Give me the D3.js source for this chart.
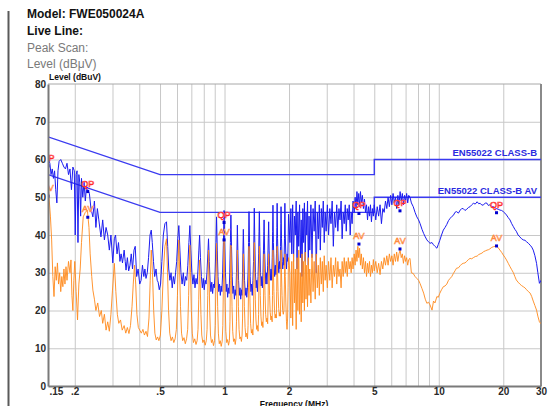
<!DOCTYPE html>
<html><head><meta charset="utf-8">
<script src="https://cdn.jsdelivr.net/npm/d3@7"></script>
<style>html,body{margin:0;padding:0;background:#fff;overflow:hidden}svg{display:block;font-family:"Liberation Sans",Arial,sans-serif}</style>
</head><body>
<svg id="c" width="548" height="406"></svg>
<script>
// ---------- data ----------
const headerLines = ["Model: FWE050024A", "Live Line:", "Peak Scan:", "Level (dBμV)"];
const yTicks = [0, 10, 20, 30, 40, 50, 60, 70, 80];
const xGrid = [0.2, 0.3, 0.4, 0.5, 0.6, 0.7, 0.8, 0.9, 1, 2, 3, 4, 5, 6, 7, 8, 9, 10, 20];
const xTickValues = [0.15, 0.2, 0.5, 1, 2, 5, 10, 20, 30];
const xTickLabels = [".15", ".2", ".5", "1", "2", "5", "10", "20", "30"];
const limitQP = [[0.15, 66], [0.5, 56], [5, 56], [5, 60], [30, 60]];
const limitAV = [[0.15, 56], [0.5, 46], [5, 46], [5, 50], [30, 50]];
const limitNames = ["EN55022 CLASS-B", "EN55022 CLASS-B AV"];
const markerFreqs = [0.150, 0.230, 0.995, 4.24, 6.59, 18.6];
const qpValues = [58.3, 51.5, 43.3, 45.7, 46.4, 45.9];
const avValues = [50.3, 44.7, 38.7, 37.6, 36.3, 37.1];

const peakScan = [
[0.150,58],[0.151,60],[0.153,59],[0.155,56],[0.157,57.5],[0.159,55],[0.161,57],[0.163,52],[0.165,48.5],[0.167,57],[0.169,59.5],[0.172,60],[0.175,59],[0.178,58],[0.181,57.5],[0.184,59],[0.187,56],[0.190,57.5],[0.193,52],[0.196,58],[0.199,57],[0.201,40],[0.203,56],[0.205,57],[0.207,38],[0.209,56],[0.211,54],[0.213,45],[0.215,55],[0.218,50],[0.221,54],[0.224,49],[0.227,53],[0.230,52],
[0.234,51],[0.238,47],[0.243,44.8],[0.247,49],[0.251,42],[0.255,47],[0.259,44],[0.265,39.5],[0.270,44],[0.275,38.7],[0.280,42],[0.285,40],[0.290,36],[0.295,40],[0.301,32.6],[0.306,39],[0.310,40],[0.315,35],[0.320,38],[0.325,33],[0.329,35],[0.334,32.6],[0.340,36],[0.344,33],[0.347,30.7],[0.352,34],[0.357,30.5],[0.362,32],[0.367,35],[0.372,31],[0.378,36],[0.383,37],[0.389,29],[0.395,31],[0.402,27],[0.408,28],[0.414,32],[0.420,29],[0.425,31],[0.430,28.5],[0.436,30],[0.442,34],[0.449,40],[0.455,41.3],[0.460,38],[0.466,33],[0.472,29],[0.479,31],[0.485,28],[0.490,27.5],[0.496,25.5],[0.503,27],[0.510,33],[0.518,40],[0.527,43],
[0.536,43.5],[0.543,37],[0.549,31],[0.556,28],[0.563,30],[0.570,26],[0.577,29],[0.584,27],[0.591,30],[0.598,33],[0.605,39],[0.612,42.5],
[0.619,36],[0.626,30],[0.634,27],[0.642,30],[0.650,26.5],[0.658,29],[0.666,28],[0.674,32],[0.682,38],[0.689,42.5],
[0.696,36],[0.704,30],[0.712,27],[0.720,29.5],[0.728,26],[0.736,28.5],[0.745,27],[0.752,31],[0.759,36],[0.765,40],
[0.772,34],[0.780,29],[0.788,26],[0.796,28.5],[0.804,25.5],[0.812,28],[0.820,27],[0.828,30],[0.836,35],[0.842,39],
[0.849,33],[0.856,28],[0.864,25],[0.872,27.5],[0.880,24.5],[0.888,27],[0.896,26],[0.904,30],[0.912,38],[0.918,44.8],
[0.925,36],[0.932,29],[0.940,25],[0.948,27],[0.956,24],[0.964,26.5],[0.972,25],[0.980,30],[0.988,38],[0.995,46.5],
[1.002,38],[1.010,30],[1.018,25],[1.026,27],[1.034,23.5],[1.042,26],[1.050,24.5],[1.058,30],[1.065,38],[1.071,45.3],
[1.078,37],[1.086,29],[1.094,24.5],[1.103,26.5],[1.112,23],[1.121,25.5],[1.130,24],[1.137,30],[1.143,36],[1.148,42.6],
[1.155,35],[1.163,28],[1.172,24],[1.181,26],[1.190,23],[1.199,25.5],[1.207,24],[1.214,30],[1.219,36],[1.224,41.5],
[1.231,35],[1.240,28],[1.250,24],[1.260,26],[1.270,23.5],[1.280,26],[1.288,30],[1.295,38],[1.301,46.2],
[1.308,38],[1.317,29],[1.327,25],[1.337,27],[1.347,24],[1.357,28],[1.366,33],[1.372,40],[1.377,47.1],
[1.385,38],[1.394,30],[1.404,26],[1.414,28],[1.424,25],[1.434,29],[1.443,35],[1.449,41],[1.454,46.2],
[1.462,37],[1.472,30],[1.482,26.5],[1.492,29],[1.502,26],[1.512,30],[1.520,36],[1.526,41],[1.530,44],
[1.538,36],[1.548,31],[1.558,27],[1.568,30],[1.578,27],[1.590,32],[1.600,39],[1.607,43.5],
[1.615,36],[1.625,31],[1.636,28],[1.648,31],[1.660,28],[1.670,34],[1.677,41],[1.683,47.9],
[1.691,38],[1.702,32],[1.714,29],[1.726,32],[1.738,29.5],[1.748,35],[1.755,42],[1.760,48.4],
[1.768,39],[1.780,33],[1.792,30],[1.804,33],[1.816,31],[1.826,37],[1.832,43],[1.836,47.5],
[1.845,39],[1.858,33],[1.870,31],[1.883,34],[1.895,32],[1.905,39],[1.913,48.4],
[1.921,40],[1.934,34],[1.947,31],[1.960,35],[1.973,33],[1.983,40],[1.990,45.5],
[2.02,38],[2.04,47],[2.06,35],[2.08,48],[2.10,33],[2.12,45],[2.14,40],[2.16,49],[2.18,31],[2.20,46],[2.22,37],[2.24,48],[2.26,34],[2.28,44],[2.30,29],[2.32,47],[2.34,38],[2.36,48.5],[2.38,33],[2.40,46],[2.42,40],[2.44,49],[2.46,32],[2.48,45],[2.50,36],
[2.53,48],[2.56,34],[2.59,47],[2.62,41],[2.65,49],[2.68,30],[2.71,46],[2.74,39],[2.77,48],[2.80,36],[2.83,47],[2.86,42],[2.89,49],[2.92,38],[2.95,46],[2.98,41],
[3.02,48],[3.06,40],[3.10,47],[3.14,43],[3.18,49],[3.22,37],[3.26,46],[3.30,42],[3.34,48],[3.38,41],[3.42,47],[3.46,44],[3.50,49],[3.54,39],[3.58,46],[3.62,43],[3.66,48],[3.70,41],[3.74,47],[3.78,44],[3.82,48],[3.86,40],[3.90,46],[3.94,43],[3.98,49],
[4.03,46],[4.07,50],[4.11,47],[4.15,51.5],[4.19,48],[4.23,51],[4.27,47.5],[4.31,51.5],[4.35,48.5],[4.40,50.5],[4.45,47],[4.50,49.5],[4.55,46],[4.60,48],[4.65,44],[4.70,47.5],[4.75,45],[4.80,48],[4.85,43.5],[4.90,47],[4.95,45],[5.00,48],
[5.08,44],[5.16,47.5],[5.24,45],[5.32,48],[5.40,43],[5.48,47],[5.56,46],[5.64,49],[5.72,47],[5.80,50],[5.88,47.5],[5.96,50.5],[6.04,48],[6.12,51],[6.20,48.5],[6.28,50],[6.36,47],[6.44,50.5],[6.52,48],[6.60,51.5],[6.68,49],[6.76,51],[6.84,48],[6.92,50.5],[7.00,49],[7.08,51],[7.16,48.5],[7.24,50.5],[7.34,50],
[7.45,48.5],[7.6,47.5],[7.75,46],[7.9,44.8],[8.05,44],[8.17,43.1],[8.35,41.5],[8.5,40.4],[8.65,39.5],[8.8,38.7],[8.95,38.2],[9.1,37.8],[9.3,38],[9.45,37.4],[9.6,37],[9.8,36.5],[9.95,37.5],[10.1,38.5],[10.3,40],[10.5,41.3],[10.7,42],[10.9,42.8],[11.1,43.8],[11.3,44.4],[11.5,44.9],[11.7,45.2],[11.9,46],[12.1,46.2],[12.35,45.8],[12.6,46.6],[12.8,47],[13.0,47],[13.25,46.5],[13.5,46.8],[13.75,47.3],[14.0,47.5],[14.25,48],[14.5,48.4],[14.8,48.2],[15.1,48.8],[15.35,48.3],[15.6,48.4],[15.9,47.9],[16.2,48],[16.5,48.5],[16.8,48.4],[17.05,47.8],[17.3,48],[17.65,47.6],[18.0,47.5],[18.3,47.2],[18.6,47],[18.95,46.8],[19.3,46.6],[19.65,46.5],[20.0,46.2],[20.35,45.8],[20.7,45.3],[21.1,44.6],[21.5,44],[21.9,43],[22.3,42.2],[22.65,41.5],[23.0,41],[23.45,40],[23.9,39.5],[24.35,39],[24.8,38.7],[25.25,38.6],[25.7,38.2],[26.2,37.8],[26.7,37.3],[27.15,36.8],[27.6,36],[28.1,34.5],[28.6,32.5],[29.0,30],[29.5,27.2],[30,28]
];

const averageScan = [
[0.150,50],[0.151,52],[0.152,49.3],[0.154,44.8],[0.156,38.7],[0.158,29],[0.160,23.7],[0.162,31.6],[0.164,28],[0.166,32.6],[0.168,27],[0.170,30],[0.172,25],[0.174,29],[0.176,26.3],[0.178,31],[0.180,27],[0.182,31.6],[0.184,28],[0.187,33],[0.190,30],[0.192,33.4],[0.194,24],[0.196,20],[0.198,28],[0.200,33],[0.203,25],[0.206,17.5],[0.209,27],[0.212,31],[0.215,38],[0.219,44.8],[0.224,46],[0.229,46.6],[0.233,42],[0.236,35],[0.240,29],[0.243,25.4],[0.247,23],[0.251,20],[0.256,22],[0.261,18.4],[0.266,20],[0.270,16.6],[0.275,19],[0.280,14.8],[0.285,17],[0.290,14.5],[0.295,19],[0.300,25.4],[0.306,32.5],[0.311,25],[0.316,19],[0.321,16.6],[0.327,17.5],[0.333,14.8],[0.340,16],[0.346,14],[0.352,15.5],[0.358,13.9],[0.364,16],[0.370,21],[0.375,27],[0.380,32],[0.385,27],[0.390,19],[0.396,15.5],[0.402,14.8],[0.409,14],[0.416,15],[0.423,13.5],[0.430,14.5],[0.437,13.1],[0.444,18],[0.450,28],[0.455,36],[0.461,30],[0.467,20],[0.473,14],[0.480,12.2],[0.487,13],[0.494,12],[0.502,13.5],[0.510,20],[0.518,30],[0.527,37],
[0.536,39],[0.542,30],[0.548,20],[0.555,14],[0.563,12],[0.571,13],[0.580,11.5],[0.588,12.5],[0.596,15],[0.603,24],[0.608,33],[0.612,38.7],
[0.617,31],[0.623,21],[0.630,14],[0.638,12],[0.647,12.8],[0.656,11.2],[0.665,12.5],[0.673,15],[0.680,24],[0.685,32],[0.689,37.3],
[0.694,30],[0.700,20],[0.707,14],[0.716,11.5],[0.726,12.5],[0.736,11],[0.745,12],[0.752,15],[0.758,23],[0.762,29],[0.765,33.4],
[0.770,27],[0.776,19],[0.783,13.5],[0.792,11.5],[0.802,12.2],[0.812,10.8],[0.822,12],[0.829,15],[0.835,24],[0.839,31],[0.842,36],
[0.847,29],[0.853,20],[0.860,13.5],[0.869,11.5],[0.878,12.3],[0.888,10.7],[0.898,12],[0.905,16],[0.911,26],[0.915,33],[0.918,37.8],
[0.923,30],[0.929,21],[0.936,14],[0.945,11.2],[0.955,12],[0.965,10.5],[0.975,11.8],[0.982,16],[0.988,27],[0.992,34],[0.995,38.7],
[1.000,31],[1.007,22],[1.014,14.5],[1.024,11.5],[1.034,12.3],[1.044,10.8],[1.054,12],[1.060,17],[1.065,28],[1.069,34],[1.071,37.3],
[1.077,30],[1.084,21],[1.092,14.5],[1.102,11.8],[1.112,12.5],[1.122,11],[1.131,12.5],[1.137,17],[1.142,28],[1.146,33],[1.148,36],
[1.154,29],[1.161,21],[1.169,15],[1.179,12.5],[1.189,13],[1.199,11.8],[1.208,13.5],[1.214,18],[1.219,28],[1.222,32],[1.224,35],
[1.230,29],[1.238,21],[1.247,15.5],[1.258,13],[1.269,14],[1.280,12.5],[1.288,16],[1.294,26],[1.298,33],[1.301,37],
[1.307,30],[1.315,22],[1.324,16.5],[1.335,14],[1.346,15],[1.356,13.5],[1.365,18],[1.371,28],[1.375,34],[1.377,38],
[1.383,31],[1.392,23],[1.402,17.5],[1.413,15],[1.424,16],[1.434,14.5],[1.442,19],[1.448,29],[1.452,34],[1.454,37],
[1.460,31],[1.469,24],[1.479,18.5],[1.490,16],[1.501,17],[1.511,15.5],[1.519,20],[1.525,29],[1.528,33],[1.530,35],
[1.537,30],[1.546,24],[1.556,19],[1.567,17],[1.578,18],[1.590,16.5],[1.597,22],[1.603,31],[1.607,35],
[1.614,30],[1.623,24],[1.634,19.5],[1.646,17.5],[1.658,18.5],[1.668,17],[1.675,24],[1.680,32],[1.683,36],
[1.690,31],[1.700,25],[1.711,20],[1.723,18],[1.735,19],[1.745,18],[1.752,25],[1.757,33],[1.760,37],
[1.767,31],[1.778,25],[1.790,20.5],[1.802,18.5],[1.814,19.5],[1.824,18.5],[1.830,26],[1.834,33],[1.836,36],
[1.844,30],[1.856,24],[1.868,20],[1.881,19],[1.894,20],[1.903,27],[1.910,33],[1.913,35],
[1.921,29],[1.933,22],[1.946,17],[1.958,15],[1.970,18],[1.980,26],[1.987,32],[1.990,34],
[2.02,30],[2.04,18],[2.06,33],[2.08,16],[2.10,35],[2.12,22],[2.14,31],[2.16,15],[2.18,34],[2.20,20],[2.22,36],[2.24,19],[2.26,30],[2.28,17],[2.30,35],[2.32,22],[2.34,33],[2.36,20],[2.38,35.5],[2.40,23],[2.42,32],[2.44,21],[2.46,34],[2.48,24],[2.50,31],
[2.53,22],[2.56,35],[2.59,25],[2.62,33],[2.65,23],[2.68,35],[2.71,26],[2.74,32],[2.77,24],[2.80,34],[2.83,27],[2.86,33],[2.89,25],[2.92,34.5],[2.95,28],[2.98,32],
[3.02,26],[3.06,33],[3.10,28],[3.14,34],[3.18,26],[3.22,32],[3.26,29],[3.30,34],[3.34,27],[3.38,33],[3.42,29],[3.46,31],[3.50,26],[3.54,33],[3.58,29],[3.62,34],[3.66,30],[3.70,33],[3.74,29],[3.78,34],[3.82,31],[3.86,33],[3.90,30],[3.94,34],[3.98,31],
[4.03,35],[4.07,32],[4.11,36],[4.15,33],[4.19,37],[4.23,34],[4.27,36.5],[4.31,32],[4.35,35],[4.40,31],[4.45,34],[4.50,30],[4.55,33],[4.60,29],[4.65,32.5],[4.70,30],[4.75,33],[4.80,29],[4.85,32],[4.90,30],[4.95,33.5],[5.00,30.5],
[5.08,33],[5.16,30],[5.24,32.5],[5.32,29.5],[5.40,33],[5.48,31],[5.56,34],[5.64,32],[5.72,34.5],[5.80,32],[5.88,35],[5.96,33],[6.04,34.5],[6.12,32],[6.20,35],[6.28,33],[6.36,35.5],[6.44,33],[6.52,35],[6.60,36],[6.68,34],[6.76,35],[6.84,32.5],[6.92,34.5],[7.00,33],[7.08,34],[7.16,32],[7.24,33.5],[7.34,33.8],
[7.45,30],[7.6,29.8],[7.75,29],[7.9,28.5],[8.05,28],[8.17,27.2],[8.35,25.8],[8.5,24.6],[8.65,23],[8.8,21.9],[8.95,22.2],[9.1,21.5],[9.3,20.1],[9.45,22.5],[9.6,22],[9.8,23.7],[9.95,23.5],[10.1,24.5],[10.3,25.5],[10.5,26.3],[10.7,26.5],[10.9,27],[11.1,28],[11.3,28.5],[11.5,29],[11.7,29.8],[11.9,30.5],[12.1,31.2],[12.35,31.3],[12.6,31.9],[12.8,32.3],[13.0,32.5],[13.25,32.6],[13.5,33],[13.75,33.5],[14.0,33.8],[14.25,33.7],[14.5,34],[14.8,34.3],[15.1,34.4],[15.35,34.8],[15.6,35],[15.9,35.2],[16.2,35.6],[16.5,35.8],[16.8,36],[17.05,36.1],[17.3,36.3],[17.65,36.7],[18.0,36.9],[18.3,37],[18.6,37.1],[18.95,36.6],[19.3,36],[19.65,35.4],[20.0,34.7],[20.35,34.1],[20.7,33.4],[21.1,32.5],[21.5,31.6],[21.9,30.8],[22.3,30],[22.65,29],[23.0,28.1],[23.45,27.5],[23.9,27],[24.35,26.6],[24.8,26.3],[25.25,26],[25.7,25.5],[26.2,25],[26.7,24.6],[27.15,23.7],[27.6,22.5],[28.1,21.3],[28.6,20.1],[29.0,18.5],[29.5,17],[30,16.5]
];

// ---------- layout ----------
const svg = d3.select("#c");
const L = 48, R = 541, T = 84, B = 386;
const x = d3.scaleLog().domain([0.15, 30]).range([L, R]);
const y = d3.scaleLinear().domain([0, 80]).range([B, T]);

// left vertical rule of the page
svg.append("line").attr("x1", 8.5).attr("x2", 8.5).attr("y1", 11).attr("y2", 406)
  .attr("stroke", "#5a5a5a").attr("stroke-width", 2);

// header text
const hdr = svg.append("g");
const hy = [18, 35, 52, 68];
headerLines.forEach((t, i) => {
  hdr.append("text").attr("x", 27).attr("y", hy[i]).text(t)
    .attr("font-size", 12).attr("font-weight", i < 2 ? "bold" : "normal")
    .attr("fill", i < 2 ? "#111" : "#7a7a7a");
});

// gridlines
const gx = svg.append("g").attr("transform", `translate(0,${B})`)
  .call(d3.axisBottom(x).tickValues(xGrid).tickSize(-(B - T)).tickFormat(""));
gx.select(".domain").remove();
gx.selectAll(".tick line").attr("stroke", "#c8c8c8").attr("stroke-width", 1);
const gy = svg.append("g").attr("transform", `translate(${L},0)`)
  .call(d3.axisLeft(y).tickValues(yTicks.slice(1, -1)).tickSize(-(R - L)).tickFormat(""));
gy.select(".domain").remove();
gy.selectAll(".tick line").attr("stroke", "#c8c8c8").attr("stroke-width", 1);

// frame
svg.append("line").attr("x1", L).attr("x2", R).attr("y1", T).attr("y2", T).attr("stroke", "#a8a8a8").attr("stroke-width", 1);
svg.append("line").attr("x1", R).attr("x2", R).attr("y1", T).attr("y2", B).attr("stroke", "#8a8a8a").attr("stroke-width", 2);

// clip
svg.append("clipPath").attr("id", "pc").append("rect").attr("x", L).attr("y", T).attr("width", R - L).attr("height", B - T);
const plot = svg.append("g").attr("clip-path", "url(#pc)");

const line = d3.line().x(d => x(d[0])).y(d => y(d[1]));

// limit lines
plot.append("path").datum(limitQP).attr("d", line).attr("fill", "none").attr("stroke", "#3a3af0").attr("stroke-width", 1.4);
plot.append("path").datum(limitAV).attr("d", line).attr("fill", "none").attr("stroke", "#3a3af0").attr("stroke-width", 1.4);

// traces
plot.append("path").datum(peakScan).attr("d", line).attr("fill", "none").attr("stroke", "#1c1cf0").attr("stroke-width", 1).attr("stroke-linejoin", "round");
plot.append("path").datum(averageScan).attr("d", line).attr("fill", "none").attr("stroke", "#ff8a1c").attr("stroke-width", 1).attr("stroke-opacity", 0.9).attr("stroke-linejoin", "round");

// limit names
svg.append("text").attr("x", 537).attr("y", y(60) - 4).attr("text-anchor", "end").text(limitNames[0])
  .attr("font-size", 9.5).attr("font-weight", "bold").attr("fill", "#2a2ae0");
svg.append("text").attr("x", 537).attr("y", y(50) - 3).attr("text-anchor", "end").text(limitNames[1])
  .attr("font-size", 9.5).attr("font-weight", "bold").attr("fill", "#2a2ae0");

// markers
markerFreqs.forEach((f, i) => {
  const cx = x(f);
  plot.append("text").attr("x", cx).attr("y", y(qpValues[i]) - 5).attr("text-anchor", "middle").text("QP")
    .attr("font-size", 9).attr("fill", "#ffe0e0").attr("stroke", "#ff2a2a").attr("stroke-width", 0.6);
  plot.append("text").attr("x", cx).attr("y", y(avValues[i]) - 5).attr("text-anchor", "middle").text("AV")
    .attr("font-size", 9).attr("fill", "#ffe8d8").attr("stroke", "#ff8a40").attr("stroke-width", 0.6);
  plot.append("rect").attr("x", cx - 1.5).attr("y", y(qpValues[i]) - 1.5).attr("width", 3).attr("height", 3).attr("fill", "#0000d0");
  plot.append("rect").attr("x", cx - 1.5).attr("y", y(avValues[i]) - 1.5).attr("width", 3).attr("height", 3).attr("fill", "#0000d0");
});

// axes
const ax = svg.append("g").attr("transform", `translate(0,${B})`)
  .call(d3.axisBottom(x).tickValues(xTickValues).tickSize(0).tickPadding(2).tickFormat((d, i) => xTickLabels[i]));
ax.select(".domain").attr("stroke", "#7a7a7a").attr("stroke-width", 2);
ax.selectAll("text").attr("font-size", 10).attr("font-weight", "bold").attr("fill", "#2a2a2a")
  .attr("font-family", "Liberation Sans, Arial, sans-serif");
ax.selectAll(".tick").filter(d => d === 0.15).select("text").attr("text-anchor", "start").attr("dx", 1);

const ay = svg.append("g").attr("transform", `translate(${L},0)`)
  .call(d3.axisLeft(y).tickValues(yTicks).tickSize(0).tickPadding(2));
ay.select(".domain").attr("stroke", "#7a7a7a").attr("stroke-width", 2);
ay.selectAll("text").attr("font-size", 10).attr("font-weight", "bold").attr("fill", "#2a2a2a")
  .attr("font-family", "Liberation Sans, Arial, sans-serif");

// axis titles
svg.append("text").attr("x", 49).attr("y", 80).text("Level (dBuV)")
  .attr("font-size", 8.5).attr("font-weight", "bold").attr("fill", "#111");
svg.append("text").attr("x", 294).attr("y", 407).attr("text-anchor", "middle").text("Frequency (MHz)")
  .attr("font-size", 8.5).attr("font-weight", "bold").attr("fill", "#111");
</script>
</body></html>
